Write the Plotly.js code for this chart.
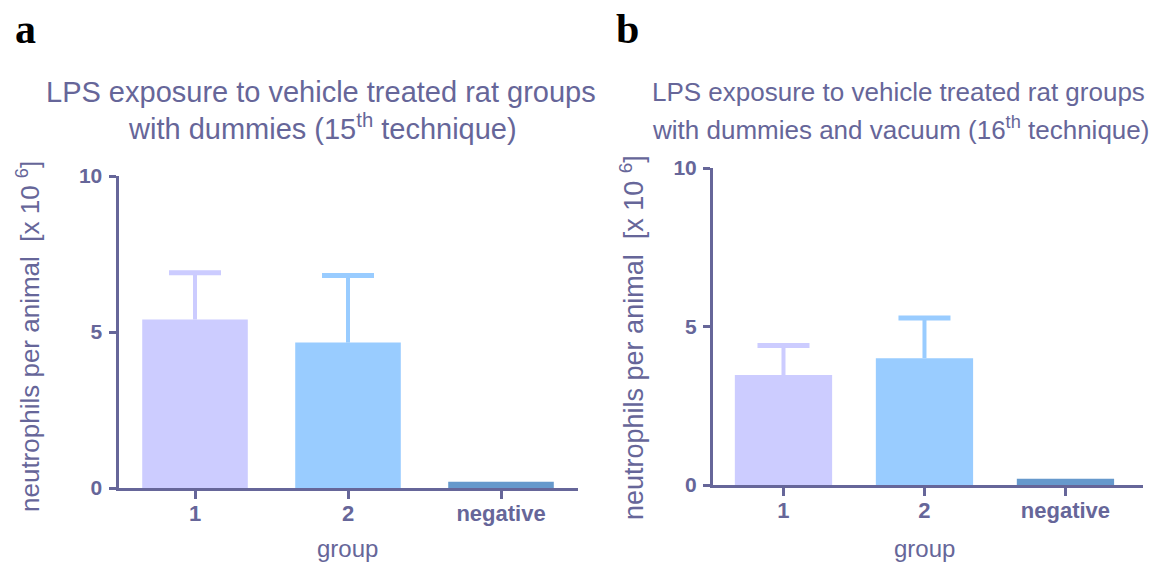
<!DOCTYPE html>
<html>
<head>
<meta charset="utf-8">
<script src="https://cdn.plot.ly/plotly-3.0.1.min.js"></script>
<style>html,body{margin:0;padding:0;background:#fff;}#chart{width:1165px;height:563px;}</style>
</head>
<body>
<div id="chart"></div>
<script>
// ---- data ----
const categories = ["1", "2", "negative"];
const meansA = [5.4, 4.66, 0.2];
const errA = [1.5, 2.15, 0];
const meansB = [3.47, 4.0, 0.2];
const errB = [0.93, 1.27, 0];
const barColors = ["#ccccff", "#99ccff", "#6699cc"];
const yTicks = [0, 5, 10];
const titleA = ["LPS exposure to vehicle treated rat groups", "with dummies (15<sup>th</sup> technique)"];
const titleB = ["LPS exposure to vehicle treated rat groups", "with dummies and vacuum (16<sup>th</sup> technique)"];
const yTitle = "neutrophils per animal&nbsp;&nbsp;[x 10 <sup>6</sup>]";
const xTitle = "group";

const W = 1165, H = 563;
const px = v => v / W;
const py = v => 1 - v / H;
const ink = "#666699";
const font = "Liberation Sans, Arial, sans-serif";

function traces(means, errs, xa, ya) {
  const out = [];
  categories.forEach((c, i) => {
    out.push({
      type: "bar", x: [c], y: [means[i]], xaxis: xa, yaxis: ya,
      width: 0.69, marker: {color: barColors[i], line: {width: 0}},
      showlegend: false, hoverinfo: "skip"
    });
    if (errs[i] > 0) {
      // vertical stem (upper error only, no caps)
      out.push({
        type: "scatter", mode: "markers", x: [c], y: [means[i]], xaxis: xa, yaxis: ya,
        marker: {size: 0.1, color: "rgba(0,0,0,0)"},
        error_y: {type: "data", symmetric: false, array: [errs[i]], arrayminus: [0],
          color: barColors[i], thickness: 4, width: 0},
        showlegend: false, hoverinfo: "skip"
      });
      // cap at the top only
      out.push({
        type: "scatter", mode: "markers", x: [c], y: [means[i] + errs[i]], xaxis: xa, yaxis: ya,
        marker: {size: 0.1, color: "rgba(0,0,0,0)"},
        error_y: {type: "data", symmetric: true, array: [0],
          color: barColors[i], thickness: 5, width: 26},
        showlegend: false, hoverinfo: "skip"
      });
    }
  });
  return out;
}

const data = [...traces(meansA, errA, "x", "y"), ...traces(meansB, errB, "x2", "y2")];

const axX = (dom, anchor) => ({
  domain: dom, anchor: anchor, type: "category", range: [-0.5, 2.5],
  showline: true, linecolor: ink, linewidth: 3, ticks: "outside", ticklen: 8, tickwidth: 3, tickcolor: ink,
  showgrid: false, zeroline: false, ticklabelstandoff: -4,
  tickfont: {family: font, size: 22, color: ink, weight: "bold"}, fixedrange: true
});
const axY = (dom, anchor) => ({
  domain: dom, anchor: anchor, range: [0, 10], tickvals: yTicks, ticktext: yTicks.map(String),
  showline: true, linecolor: ink, linewidth: 3, ticks: "outside", ticklen: 7, tickwidth: 3, tickcolor: ink,
  showgrid: false, zeroline: false, ticklabelstandoff: 2,
  tickfont: {family: font, size: 21, color: ink, weight: "bold"}, fixedrange: true
});

const ann = [];
function addText(text, x, y, size, opts) {
  ann.push(Object.assign({text: text, x: px(x), y: py(y), xref: "paper", yref: "paper",
    showarrow: false, xanchor: "center", yanchor: "middle",
    font: {family: font, size: size, color: ink}}, opts || {}));
}
addText(titleA[0], 321, 92, 29);
addText(titleA[1], 322, 127, 29);
addText(titleB[0], 650, 92, 26, {xanchor: "left"});
addText(titleB[1], 650, 128, 26, {xanchor: "left"});
addText(yTitle, 28, 337, 26, {textangle: -90});
addText(yTitle, 632, 337, 27, {textangle: -90});
addText(xTitle, 347, 548, 24);
addText(xTitle, 925, 548, 24);
ann.push({text: "<b>a</b>", x: px(25), y: py(29), xref: "paper", yref: "paper", showarrow: false,
  xanchor: "center", yanchor: "middle",
  font: {family: "Liberation Serif, Times New Roman, serif", size: 42, color: "#000"}});
ann.push({text: "<b>b</b>", x: px(627), y: py(29), xref: "paper", yref: "paper", showarrow: false,
  xanchor: "center", yanchor: "middle",
  font: {family: "Liberation Serif, Times New Roman, serif", size: 42, color: "#000"}});

const layout = {
  width: W, height: H, margin: {l: 0, r: 0, t: 0, b: 0},
  paper_bgcolor: "#fff", plot_bgcolor: "#fff",
  barmode: "overlay",
  xaxis: axX([px(118.5), px(577.5)], "y"),
  yaxis: axY([1 - 488 / H, 1 - 176 / H], "x"),
  xaxis2: Object.assign(axX([px(713), px(1143)], "y2"), {range: [-0.5, 2.55]}),
  yaxis2: axY([1 - 485 / H, 1 - 168 / H], "x2"),
  annotations: ann
};
Plotly.newPlot("chart", data, layout, {displayModeBar: false, staticPlot: true});
</script>
</body>
</html>
